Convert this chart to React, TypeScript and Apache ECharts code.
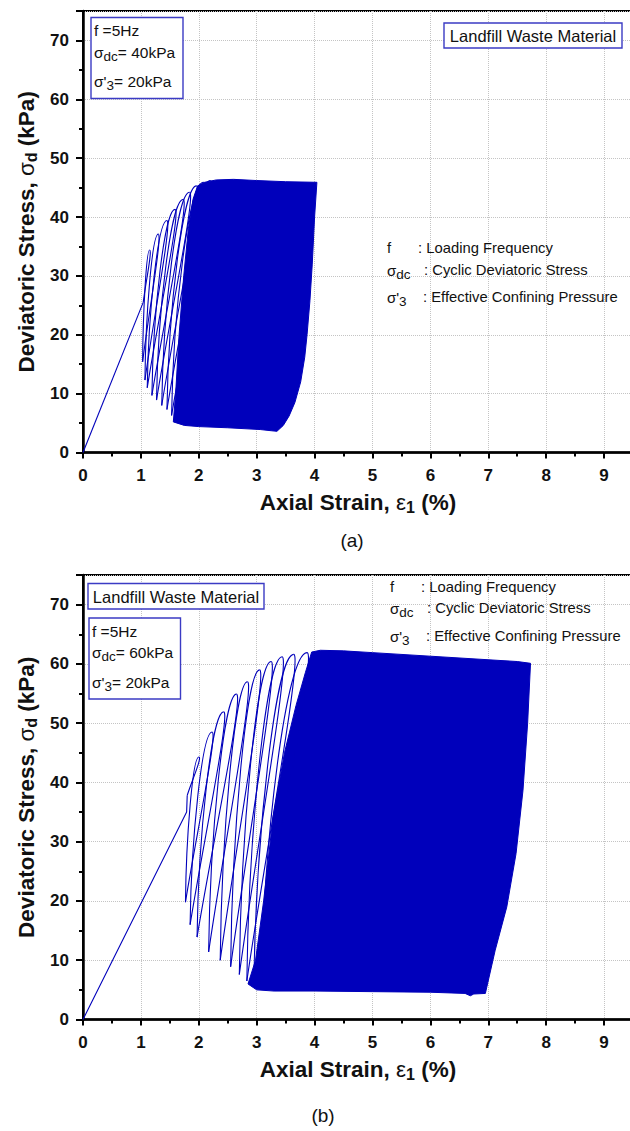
import React, { useEffect, useRef } from 'react';
import * as echarts from 'echarts';

const FF = "'Liberation Sans', Arial, Helvetica, sans-serif";
const BLUE = '#0000bb';
const BOX = '#3b3bc4';
const TXT = '#111111';

const X_MIN = 0;
const X_MAX = 9.5;
const X_STEP = 1;
const Y_MIN = 0;
const Y_MAX = 75;
const Y_STEP = 10;

// ---------- (a) sigma_dc = 40 kPa ----------
const aLoadX = [0, 1.04];
const aLoadY = [0, 25.5];
const aPeakX = [1.15, 1.30, 1.45, 1.59, 1.73, 1.84, 1.96, 2.08, 2.20];
const aPeakY = [34.4, 37.1, 39.4, 41.3, 43.0, 44.2, 45.3, 45.9, 46.2];
const aValleyX = [1.03, 1.07, 1.11, 1.19, 1.27, 1.36, 1.45, 1.53, 1.62];
const aValleyY = [15.4, 12.3, 11.0, 9.7, 8.9, 8.0, 7.3, 6.3, 5.6];
const aBandX = [1.98, 2.10, 2.30, 2.60, 3.00, 3.50, 4.04, 4.00, 3.96, 3.92, 3.87, 3.83, 3.76, 3.66, 3.56, 3.46, 3.35, 3.25, 3.06, 2.50, 2.00, 1.75, 1.56, 1.60, 1.66, 1.74, 1.82, 1.90];
const aBandY = [45.3, 45.9, 46.3, 46.4, 46.2, 46.0, 45.9, 40.0, 32.0, 25.8, 20.0, 16.2, 12.0, 8.5, 6.2, 4.6, 3.6, 3.7, 3.9, 4.2, 4.4, 4.6, 5.2, 10.0, 20.0, 30.0, 38.0, 43.0];

// ---------- (b) sigma_dc = 60 kPa ----------
const bLoadX = [0, 1.79, 1.80];
const bLoadY = [0, 35.0, 37.8];
const bPeakX = [2.00, 2.23, 2.43, 2.65, 2.84, 3.05, 3.25, 3.44, 3.64, 3.87];
const bPeakY = [44.3, 48.5, 51.9, 54.9, 57.0, 59.0, 60.4, 61.2, 61.6, 61.9];
const bValleyX = [1.77, 1.85, 1.97, 2.17, 2.37, 2.55, 2.70, 2.83, 2.95, 3.08];
const bValleyY = [19.8, 16.0, 13.9, 11.4, 10.0, 8.9, 7.6, 6.5, 5.6, 5.0];
const bBandX = [3.95, 4.10, 4.50, 5.00, 6.00, 7.00, 7.50, 7.73, 7.68, 7.60, 7.48, 7.32, 7.12, 6.95, 6.75, 6.69, 6.60, 6.00, 5.00, 4.00, 3.30, 3.00, 2.85, 2.98, 3.12, 3.28, 3.48, 3.68, 3.84];
const bBandY = [62.0, 62.3, 62.2, 61.9, 61.3, 60.7, 60.4, 60.1, 50.0, 38.7, 28.0, 19.0, 11.7, 4.4, 4.3, 4.0, 4.4, 4.6, 4.7, 4.8, 4.8, 5.0, 6.0, 10.0, 20.0, 34.0, 45.0, 53.0, 58.5];

const xName = '{b|Axial Strain, }{g|ε}{sb|1}{b| (%)}';
const yName = '{b|Deviatoric Stress, }{g|σ}{sb|d}{b| (kPa)}';

function zip(xs: number[], ys: number[]) {
  return xs.map((x, i) => [x, ys[i]]);
}

function loopRows(loadX: number[], loadY: number[], peakX: number[], peakY: number[], valleyX: number[], valleyY: number[]) {
  return peakX.map((px, i) => [
    i === 0 ? loadX[loadX.length - 1] : valleyX[i - 1],
    i === 0 ? loadY[loadY.length - 1] : valleyY[i - 1],
    px,
    peakY[i],
    valleyX[i],
    valleyY[i],
  ]);
}

const axisNameRich = {
  b: { fontFamily: FF, fontSize: 22.5, fontWeight: 'bold', color: TXT, lineHeight: 28 },
  g: { fontFamily: FF, fontSize: 22.5, fontWeight: 'normal', color: TXT, lineHeight: 28 },
  sb: { fontFamily: FF, fontSize: 16, fontWeight: 'bold', color: TXT, padding: [10, 0, 0, 0] },
};

function xAxisCfg(gridIndex: number) {
  return {
    type: 'value',
    gridIndex,
    min: X_MIN,
    max: X_MAX,
    interval: X_STEP,
    axisLine: { show: true, onZero: false, lineStyle: { color: '#000', width: 2.5 } },
    axisTick: { show: true, inside: false, length: 6, lineStyle: { color: '#000', width: 2 } },
    minorTick: { show: true, splitNumber: 2, length: 4, lineStyle: { color: '#000', width: 2 } },
    axisLabel: { show: true, margin: 14, fontFamily: FF, fontSize: 17, fontWeight: 'bold', color: TXT, showMaxLabel: false },
    splitLine: { show: true, lineStyle: { type: 'dotted', color: '#c4c4c4', width: 1 } },
    name: xName,
    nameLocation: 'middle',
    nameGap: 36,
    nameTextStyle: { rich: axisNameRich },
  };
}

function yAxisCfg(gridIndex: number) {
  return {
    type: 'value',
    gridIndex,
    min: Y_MIN,
    max: Y_MAX,
    interval: Y_STEP,
    axisLine: { show: true, onZero: false, lineStyle: { color: '#000', width: 2.5 } },
    axisTick: { show: true, inside: false, length: 7, lineStyle: { color: '#000', width: 2 } },
    minorTick: { show: true, splitNumber: 2, length: 4, lineStyle: { color: '#000', width: 2 } },
    axisLabel: { show: true, margin: 14, fontFamily: FF, fontSize: 17, fontWeight: 'bold', color: TXT, showMaxLabel: false },
    splitLine: { show: true, lineStyle: { type: 'dotted', color: '#c4c4c4', width: 1 } },
    name: yName,
    nameLocation: 'middle',
    nameGap: 40,
    nameTextStyle: { rich: axisNameRich },
  };
}

function bandSeries(idx: number, bx: number[], by: number[]) {
  return {
    type: 'custom',
    xAxisIndex: idx,
    yAxisIndex: idx,
    silent: true,
    z: 2,
    data: [[bx[0], by[0]]],
    encode: { x: 0, y: 1 },
    renderItem: (_p: any, api: any) => ({
      type: 'polygon',
      shape: { points: bx.map((x, i) => api.coord([x, by[i]])), smooth: 0 },
      style: { fill: BLUE, stroke: BLUE, lineWidth: 1 },
    }),
  };
}

// one loading/unloading cycle: start (previous valley) -> peak -> next valley
function loopSeries(idx: number, rows: number[][]) {
  return {
    type: 'custom',
    xAxisIndex: idx,
    yAxisIndex: idx,
    silent: true,
    z: 3,
    data: rows,
    encode: { x: [0, 2, 4], y: [1, 3, 5] },
    renderItem: (_p: any, api: any) => {
      const s = api.coord([api.value(0), api.value(1)]);
      const t = api.coord([api.value(2), api.value(3)]);
      const b = api.coord([api.value(4), api.value(5)]);
      const dx1 = t[0] - s[0];
      const h1 = s[1] - t[1];
      const dx2 = t[0] - b[0];
      const h2 = b[1] - t[1];
      const st = { stroke: BLUE, fill: null, lineWidth: 1.1 };
      return {
        type: 'group',
        children: [
          {
            type: 'bezierCurve',
            shape: {
              x1: s[0], y1: s[1],
              cpx1: s[0] + dx1 * 0.35, cpy1: s[1] - h1 * 0.35,
              cpx2: t[0] + dx1 * 0.15 + 2, cpy2: t[1],
              x2: t[0], y2: t[1],
            },
            style: st,
          },
          {
            type: 'bezierCurve',
            shape: {
              x1: t[0], y1: t[1],
              cpx1: t[0] - dx2 * 0.45, cpy1: t[1],
              cpx2: b[0] + dx2 * 0.05, cpy2: b[1] - h2 * 0.45,
              x2: b[0], y2: b[1],
            },
            style: st,
          },
        ],
      };
    },
  };
}

function loadSeries(idx: number, xs: number[], ys: number[]) {
  return {
    type: 'line',
    xAxisIndex: idx,
    yAxisIndex: idx,
    data: zip(xs, ys),
    showSymbol: false,
    symbol: 'none',
    z: 3,
    lineStyle: { color: BLUE, width: 1.1 },
  };
}

const normal = (size: number) => ({ fontFamily: FF, fontSize: size, fill: TXT });
const richParam = {
  n: { fontFamily: FF, fontSize: 15.5, fill: TXT, lineHeight: 20 },
  g: { fontFamily: FF, fontSize: 15.5, fill: TXT, lineHeight: 20 },
  sub: { fontFamily: FF, fontSize: 13.5, fill: TXT, padding: [8, 0, 0, 0] },
};
const richLegend = {
  n: { fontFamily: FF, fontSize: 14.8, fill: TXT, lineHeight: 20 },
  g: { fontFamily: FF, fontSize: 15, fill: TXT, lineHeight: 20 },
  sub: { fontFamily: FF, fontSize: 13.5, fill: TXT, padding: [8, 0, 0, 0] },
};

function txt(x: number, y: number, text: string, rich: any, size = 15, align = 'left') {
  return {
    type: 'text',
    x,
    y,
    z: 10,
    style: { text, rich, ...normal(size), align, verticalAlign: 'middle' },
  };
}

function box(x: number, y: number, w: number, h: number) {
  return {
    type: 'rect',
    z: 10,
    shape: { x, y, width: w, height: h },
    style: { fill: '#ffffff', stroke: BOX, lineWidth: 1.4 },
  };
}

function paramBlock(x0: number, y1: number, y2: number, y3: number, dc: string) {
  return [
    txt(x0, y1, '{n|f =5Hz}', richParam),
    txt(x0, y2, `{g|σ}{sub|dc}{n|= ${dc}kPa}`, richParam),
    txt(x0, y3, "{g|σ'}{sub|3}{n|= 20kPa}", richParam),
  ];
}

function legendBlock(x0: number, y1: number, y2: number, y3: number) {
  return [
    txt(x0, y1, '{n|f}', richLegend, 14.8),
    txt(x0 + 31, y1, '{n|: Loading Frequency}', richLegend, 14.8),
    txt(x0, y2, '{g|σ}{sub|dc}', richLegend, 14.8),
    txt(x0 + 37, y2, '{n|: Cyclic Deviatoric Stress}', richLegend, 14.8),
    txt(x0, y3, "{g|σ'}{sub|3}", richLegend, 14.8),
    txt(x0 + 36, y3, '{n|: Effective Confining Pressure}', richLegend, 14.8),
  ];
}

export default function App() {
  const ref = useRef<HTMLDivElement>(null);

  useEffect(() => {
    if (!ref.current) return;
    const chart = echarts.init(ref.current, undefined, { renderer: 'svg' });
    const gridBase = { show: true, borderColor: '#000', borderWidth: 2, backgroundColor: 'transparent', containLabel: false, outerBoundsMode: 'none' };
    const option: any = {
      animation: false,
      backgroundColor: '#ffffff',
      grid: [
        { ...gridBase, left: 83, top: 11, width: 550, height: 441.5 },
        { ...gridBase, left: 83, top: 575, width: 550, height: 444.5 },
      ],
      xAxis: [xAxisCfg(0), xAxisCfg(1)],
      yAxis: [yAxisCfg(0), yAxisCfg(1)],
      series: [
        bandSeries(0, aBandX, aBandY),
        loadSeries(0, aLoadX, aLoadY),
        loopSeries(0, loopRows(aLoadX, aLoadY, aPeakX, aPeakY, aValleyX, aValleyY)),
        bandSeries(1, bBandX, bBandY),
        loadSeries(1, bLoadX, bLoadY),
        loopSeries(1, loopRows(bLoadX, bLoadY, bPeakX, bPeakY, bValleyX, bValleyY)),
      ],
      graphic: [
        // (a)
        box(444, 23, 178, 25),
        txt(533, 35.5, '{n|Landfill Waste Material}', { n: { fontFamily: FF, fontSize: 16.5, fill: TXT } }, 16.5, 'center'),
        box(91, 17.5, 92, 81),
        ...paramBlock(94, 30.5, 52, 81.5, '40'),
        ...legendBlock(387, 248, 270, 297),
        txt(352, 540, '{n|(a)}', { n: { fontFamily: FF, fontSize: 19, fill: TXT } }, 19, 'center'),
        // (b)
        box(88, 583.5, 176, 25.5),
        txt(176, 596.5, '{n|Landfill Waste Material}', { n: { fontFamily: FF, fontSize: 16.5, fill: TXT } }, 16.5, 'center'),
        box(89, 618, 91.5, 81),
        ...paramBlock(92, 631.5, 652, 682.5, '60'),
        ...legendBlock(390, 587, 608, 636),
        txt(323, 1115, '{n|(b)}', { n: { fontFamily: FF, fontSize: 19, fill: TXT } }, 19, 'center'),
      ],
    };
    chart.setOption(option);
    return () => chart.dispose();
  }, []);

  return (
    <div
      ref={ref}
      style={{ position: 'absolute', left: 0, top: 0, width: 630, height: 1131, background: '#fff' }}
    />
  );
}
